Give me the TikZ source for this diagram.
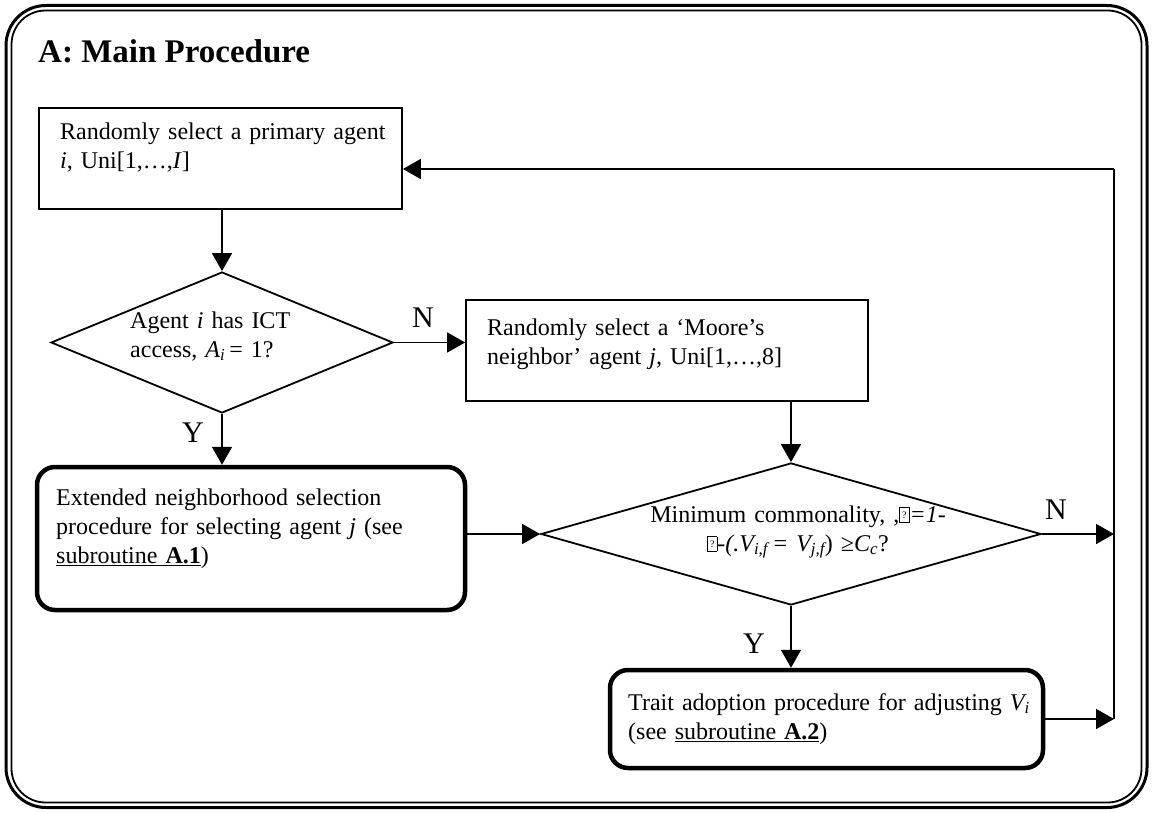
\documentclass[tikz,border=0pt]{standalone}
\usepackage{fontspec}
\setmainfont{Liberation Serif}
\usetikzlibrary{shapes.geometric,arrows.meta,calc}

% missing-glyph placeholder box
\newcommand\qbox{{\fboxsep=0pt\fboxrule=0.6pt\fbox{\vbox to 14pt{\vfil\hbox to 9pt{\hfil\fontsize{10}{10}\selectfont ?\hfil}\vfil}}}}

\begin{document}
\begin{tikzpicture}[x=1pt,y=-1pt,
  plainbox/.style={draw, line width=1.8pt, inner sep=0pt},
  subbox/.style={draw, line width=4.5pt, rounded corners=18pt, inner sep=0pt},
  decision/.style={draw, diamond, line width=1.8pt, inner sep=0pt},
  body/.style={font=\fontsize{24}{29}\selectfont, inner sep=0pt, anchor=base west, align=left, text width=#1},
  body/.default=400pt,
  yn/.style={font=\fontsize{30}{30}\selectfont, inner sep=0pt},
  conn/.style={line width=1.6pt, -{Triangle[length=18pt,width=20pt]}},
  rail/.style={line width=1.6pt}
]
\useasboundingbox (0,0) rectangle (1152,813);
\fill[white] (0,0) rectangle (1152,813);

% double rounded frame
\draw[line width=3pt, rounded corners=40pt] (6,5.5) rectangle (1147,807.5);
\draw[line width=1.8pt, rounded corners=34pt] (11.5,10.5) rectangle (1141.5,802.5);

\node[font=\fontsize{33}{33}\selectfont\bfseries, inner sep=0pt, anchor=base west] (title) at (38,63) {A: Main Procedure};

% shapes
\node[plainbox, minimum width=363pt, minimum height=101pt] (b1) at (220.5,158.5) {};
\node[decision, minimum width=342pt, minimum height=141pt] (d1) at (222,342.5) {};
\node[plainbox, minimum width=402pt, minimum height=101pt] (b2) at (667,350.5) {};
\node[subbox, minimum width=428pt, minimum height=143pt] (b3) at (251,538.5) {};
\node[decision, minimum width=500pt, minimum height=142pt] (d2) at (791,534) {};
\node[subbox, minimum width=433pt, minimum height=98pt] (b4) at (826.5,719) {};

% texts
\node[body] (b1t) at (60,140) {Randomly select a primary agent\\ \textit{i}, Uni[1,…,\textit{I}]};
\node[body=250pt] (d1t) at (130,328) {Agent \textit{i} has ICT\\ access, \textit{A\textsubscript{i}}\,= 1?};
\node[body] (b2t) at (487,335) {Randomly select a ‘Moore’s\\ neighbor’ agent \textit{j}, Uni[1,…,8]};
\node[body] (b3t) at (56,505) {Extended neighborhood selection\\ procedure for selecting agent \textit{j} (see\\ \underline{subroutine \textbf{A.1}})};
\node[font=\fontsize{24}{29}\selectfont, inner sep=0pt, anchor=base, align=center, text width=360pt] (d2t) at (798,522)
  {Minimum commonality, ,\qbox\textit{=1-}\\ \qbox\textit{-(.V\textsubscript{i,f}\,= V\textsubscript{j,f}}) ≥\textit{C\textsubscript{c}}?};
\node[body=420pt] (b4t) at (628,710) {Trait adoption procedure for adjusting \textit{V\textsubscript{i}}\\ (see \underline{subroutine \textbf{A.2}})};

% branch labels
\node[yn] (n1) at (423,318) {N};
\node[yn] (y1) at (193,433) {Y};
\node[yn] (n2) at (1056,510) {N};
\node[yn] (y2) at (754,644) {Y};

% return rail
\coordinate (rail) at (1114,169);

% connectors
\draw[conn] (d1.north |- b1.south) -- (d1.north);
\draw[conn] (d1.east) -- (d1.east -| b2.west);
\draw[conn] (d1.south) -- (d1.south |- b3.north);
\draw[conn] (d2.north |- b2.south) -- (d2.north);
\draw[conn] (b3.east |- d2.west) -- (d2.west);
\draw[conn] (d2.east) -- (d2.east -| rail);
\draw[conn] (d2.south) -- (d2.south |- b4.north);
\draw[conn] (b4.east) -- (b4.east -| rail);
\draw[rail] (b4.east -| rail) -- (rail);
\draw[conn] (rail) -- (rail -| b1.east);
\end{tikzpicture}
\end{document}
